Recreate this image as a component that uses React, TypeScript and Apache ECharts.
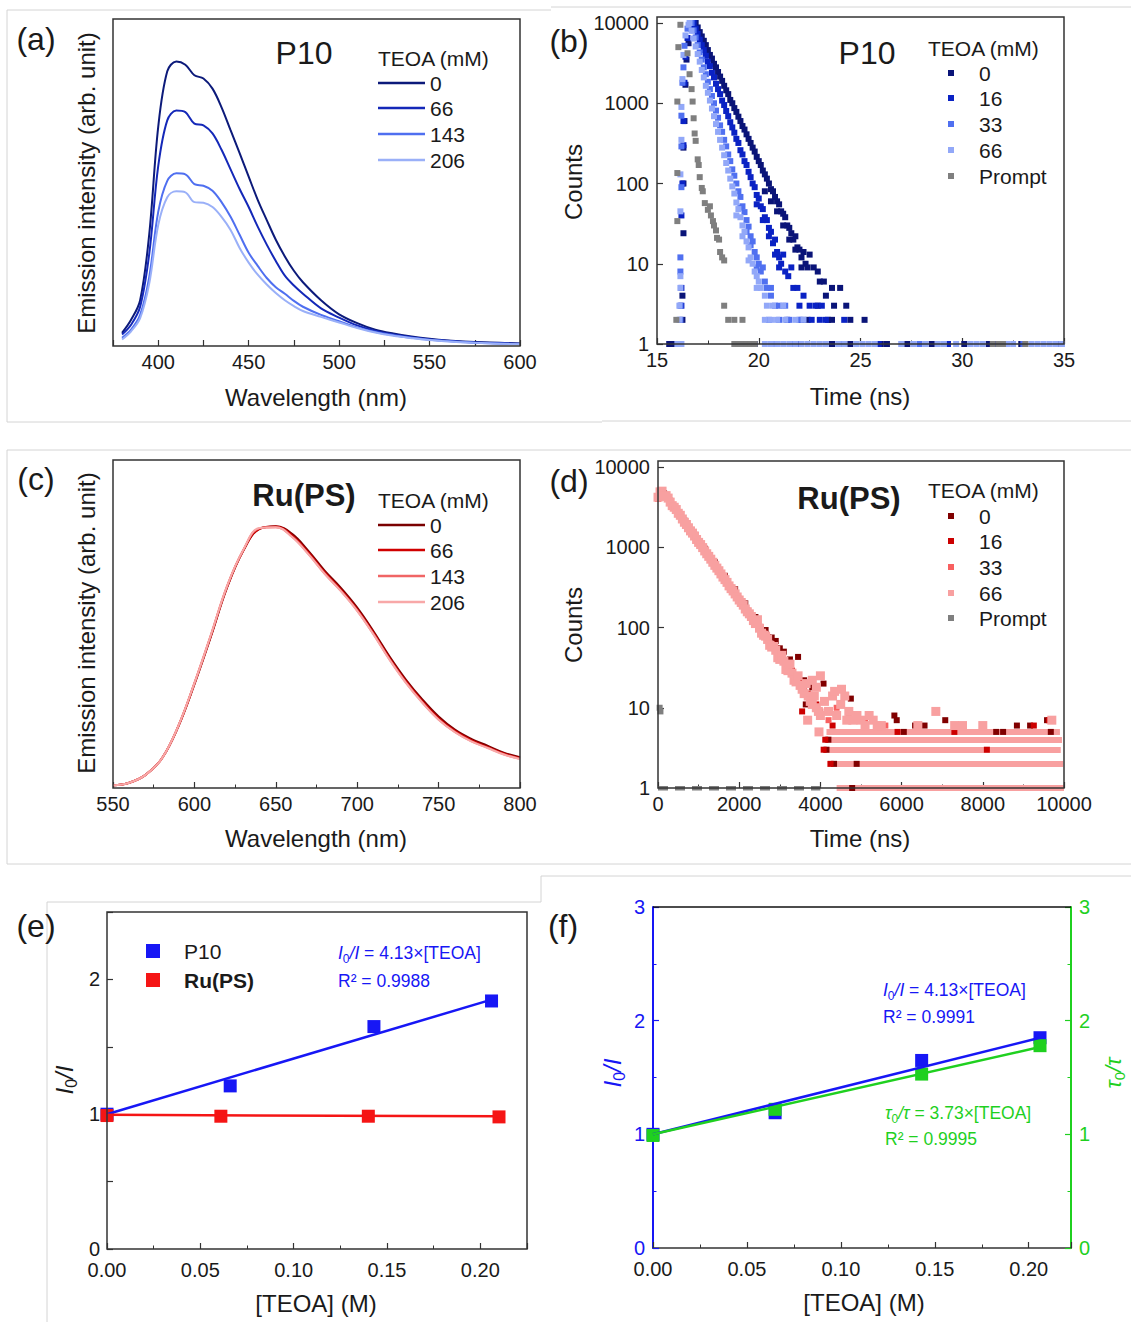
import React, { useEffect, useRef } from "react";
import * as echarts from "echarts";

// ================= DATA =================
// (a) P10 emission spectra vs TEOA (mM)
const aWavelength = [380, 385, 390, 395, 400, 405, 410, 415, 420, 425, 430, 435, 440, 445, 450, 455, 460, 465, 470, 475, 480, 490, 500, 510, 520, 530, 540, 550, 560, 575, 600];
const aI_0 = [4, 8, 14, 34, 67, 84, 87, 86, 82.8, 81.8, 78.7, 73, 66, 59, 51.8, 44.7, 38.5, 32.5, 27.4, 23, 19.5, 14, 9.7, 7, 5, 3.8, 2.9, 2.2, 1.7, 1.2, 0.8];
const aI_66 = [3.5, 6.5, 12, 28, 55, 69, 72, 71.5, 68, 67.5, 65, 60, 54, 48, 42.5, 36.5, 31, 26, 21.5, 18.5, 16, 11.5, 8.7, 6.3, 4.6, 3.5, 2.7, 2, 1.6, 1.1, 0.7];
const aI_143 = [2.5, 5, 9.5, 21, 41, 50.5, 52.8, 52.5, 49.5, 49, 47.5, 44, 39.5, 34, 28.5, 24.5, 20.8, 18, 16, 13.8, 12, 9.5, 7.6, 5.7, 4.3, 3.3, 2.5, 1.9, 1.5, 1, 0.6];
const aI_206 = [2, 4.5, 8.5, 19, 37, 45.5, 47.3, 47, 44, 43.8, 42.5, 39.5, 35.5, 30, 25.5, 21.8, 18.8, 16.2, 14, 12.2, 10.7, 8.9, 7.2, 5.5, 4.1, 3.1, 2.4, 1.8, 1.4, 1, 0.5];
const aLegend = ["0", "66", "143", "206"];

// (b) P10 decays [time ns, counts]
const b0 = [
  [16.25, 2], [16.25, 4], [16.3, 24], [16.3, 100], [16.3, 280], [16.35, 600], [16.4, 1700], [16.45, 3500], [16.55, 5600], [16.7, 8500],
  [16.9, 10000], [17.0, 8800], [17.1, 7700], [17.2, 6800], [17.3, 6000], [17.4, 5300], [17.5, 4600], [17.6, 4000], [17.7, 3600], [17.8, 3100],
  [17.9, 2800], [18.0, 2450], [18.1, 2150], [18.2, 1900], [18.3, 1650], [18.4, 1450], [18.5, 1300], [18.6, 1100], [18.7, 1000], [18.8, 870],
  [18.9, 780], [19.0, 680], [19.1, 600], [19.2, 520], [19.3, 470], [19.4, 410], [19.5, 360], [19.6, 320], [19.7, 280], [19.8, 250],
  [19.9, 215], [20.0, 190], [20.1, 170], [20.2, 145], [20.3, 130], [20.4, 115], [20.5, 100], [20.6, 85], [20.7, 80], [20.8, 68],
  [20.9, 60], [21.0, 55], [21.1, 45], [21.2, 42], [21.3, 38], [21.4, 30], [21.5, 28], [21.6, 24], [21.7, 20], [21.8, 22],
  [21.9, 16], [22.0, 15], [22.1, 12], [22.2, 14], [22.3, 10], [22.4, 9],
  [20.3, 80], [20.6, 60], [20.9, 45], [21.2, 30], [21.5, 20], [21.8, 15], [22.1, 9],
  [22.5, 13], [22.7, 9], [22.9, 8], [23.0, 6], [23.2, 6], [23.6, 5], [24.0, 5], [23.3, 4], [23.7, 3], [24.3, 3], [22.9, 3],
  [23.4, 2], [23.6, 2], [24.5, 2], [25.2, 2], [22.4, 2],
  [15.6, 1], [15.8, 1], [16.1, 1], [19.8, 1], [23.6, 1], [24.5, 1], [26.0, 1], [26.3, 1], [27.3, 1], [28.5, 1], [30.1, 1], [31.3, 1], [32.9, 1], [34.8, 1],
];
const b16 = [
  [16.2, 3], [16.2, 5], [16.2, 40], [16.25, 100], [16.3, 300], [16.3, 600], [16.35, 1800], [16.4, 3800], [16.5, 6500], [16.65, 9500],
  [16.8, 10000], [16.9, 8500], [17.0, 7300], [17.1, 6200], [17.2, 5300], [17.3, 4600], [17.4, 3900], [17.5, 3300], [17.6, 2900], [17.7, 2400],
  [17.8, 2100], [17.9, 1750], [18.0, 1500], [18.1, 1300], [18.2, 1080], [18.3, 950], [18.4, 800], [18.5, 690], [18.6, 580], [18.7, 500],
  [18.8, 430], [18.9, 360], [19.0, 320], [19.1, 260], [19.2, 230], [19.3, 190], [19.4, 170], [19.5, 140], [19.6, 120], [19.7, 100],
  [19.8, 90], [19.9, 72], [20.0, 65], [20.1, 52], [20.2, 48], [20.3, 38], [20.4, 35], [20.5, 28], [20.6, 25], [20.7, 18],
  [20.8, 20], [20.9, 14], [21.0, 12], [21.1, 10], [21.2, 13],
  [19.9, 55], [20.2, 35], [20.5, 22], [20.8, 13], [21.0, 9],
  [21.3, 8], [21.45, 7], [21.6, 9], [21.7, 5], [21.9, 5], [22.0, 3], [22.2, 4], [22.5, 3], [22.8, 3], [23.1, 3],
  [21.4, 2], [22.1, 2], [22.6, 2], [23.0, 2], [23.3, 2], [24.2, 2],
  [20.8, 1], [22.0, 1], [25.9, 1], [29.3, 1], [31.6, 1],
];
const b33 = [
  [16.15, 2], [16.15, 3], [16.15, 8], [16.15, 12], [16.2, 90], [16.2, 290], [16.2, 700], [16.25, 1800], [16.3, 2800], [16.35, 5200], [16.5, 8500],
  [16.7, 10000], [16.8, 8100], [16.9, 6600], [17.0, 5300], [17.1, 4300], [17.2, 3500], [17.3, 2800], [17.4, 2300], [17.5, 1850], [17.6, 1500],
  [17.7, 1230], [17.8, 1000], [17.9, 810], [18.0, 660], [18.1, 530], [18.2, 440], [18.3, 350], [18.4, 290], [18.5, 230], [18.6, 190],
  [18.7, 150], [18.8, 125], [18.9, 100], [19.0, 80], [19.1, 68], [19.2, 52], [19.3, 44], [19.4, 35], [19.5, 29], [19.6, 22],
  [19.7, 19], [19.8, 14], [19.9, 12], [20.0, 10],
  [19.1, 50], [19.4, 25], [19.6, 17], [19.9, 9],
  [20.1, 8], [20.2, 9], [20.3, 6], [20.4, 5], [20.6, 4], [20.6, 5], [20.8, 3], [21.0, 3], [21.3, 3], [20.5, 2], [21.0, 2], [21.5, 2], [22.0, 2],
  [21.6, 1], [24.0, 1], [27.9, 1], [33.0, 1],
];
const b66 = [
  [16.1, 2], [16.1, 3], [16.15, 5], [16.15, 7], [16.15, 45], [16.15, 130], [16.2, 350], [16.2, 900], [16.25, 2000], [16.3, 4000], [16.4, 7000], [16.55, 9500],
  [16.6, 10000], [16.7, 8000], [16.8, 6400], [16.9, 5100], [17.0, 4100], [17.1, 3300], [17.2, 2600], [17.3, 2100], [17.4, 1650], [17.5, 1350],
  [17.6, 1080], [17.7, 860], [17.8, 690], [17.9, 550], [18.0, 440], [18.1, 350], [18.2, 280], [18.3, 225], [18.4, 180], [18.5, 145],
  [18.6, 115], [18.7, 92], [18.8, 75], [18.9, 58], [19.0, 48], [19.1, 38], [19.2, 30], [19.3, 25], [19.4, 19], [19.5, 16], [19.6, 12], [19.7, 10],
  [18.9, 40], [19.2, 22], [19.5, 11],
  [19.8, 8], [19.9, 7], [20.0, 6], [20.1, 5], [19.9, 5], [20.3, 4], [20.4, 3], [20.7, 3], [21.2, 3], [20.3, 2], [20.6, 2], [20.9, 2], [21.3, 2], [21.8, 2], [22.2, 2],
  [16.0, 1], [16.2, 1], [20.3, 1], [20.6, 1], [20.9, 1], [21.2, 1], [21.5, 1], [21.8, 1], [22.1, 1], [22.4, 1], [22.7, 1], [23.0, 1], [23.3, 1],
  [23.9, 1], [24.2, 1], [24.8, 1], [25.1, 1], [25.4, 1], [25.7, 1], [27.0, 1], [27.6, 1], [28.2, 1], [28.8, 1], [29.1, 1], [29.7, 1], [30.4, 1],
  [30.7, 1], [31.0, 1], [32.2, 1], [32.5, 1], [33.4, 1], [33.7, 1], [34.0, 1], [34.3, 1], [34.6, 1], [34.9, 1],
];
const bPrompt = [
  [15.95, 2], [16.0, 34], [16.0, 135], [16.0, 1050], [16.05, 5000], [16.15, 9500], [16.5, 4200], [16.6, 2300], [16.7, 1500], [16.75, 1050],
  [16.8, 650], [16.85, 420], [16.9, 340], [17.0, 200], [17.05, 170], [17.1, 120], [17.2, 88], [17.25, 80], [17.35, 57], [17.5, 47],
  [17.6, 52], [17.65, 40], [17.75, 34], [17.8, 30], [17.9, 26], [17.95, 21], [18.05, 20], [18.1, 14], [18.2, 12], [18.3, 11],
  [18.3, 3], [18.5, 2], [18.8, 2], [19.2, 2],
  [18.8, 1], [19.0, 1], [19.2, 1], [19.4, 1], [19.6, 1], [19.8, 1], [31.5, 1], [31.8, 1], [32.0, 1], [33.1, 1],
];
const bLegend = ["0", "16", "33", "66", "Prompt"];

// (c) Ru(PS) emission spectra
const cWavelength = [550, 560, 570, 580, 590, 600, 610, 620, 630, 640, 650, 660, 670, 680, 690, 700, 710, 720, 730, 740, 750, 760, 770, 780, 790, 800];
const cI_0 = [0.8, 1.6, 4, 9, 18.6, 31.6, 46, 61, 72.3, 79, 79.8, 77.5, 72.3, 66.3, 61, 55, 47.8, 40, 33, 27, 21.8, 17.8, 15, 12.9, 10.8, 9.4];
const cI_66 = [0.8, 1.6, 4, 9, 18.7, 31.8, 46.2, 61.2, 72.4, 79, 79.7, 77, 71.8, 65.8, 60.5, 54.5, 47.3, 39.5, 32.5, 26.5, 21.3, 17.4, 14.6, 12.5, 10.5, 9.1];
const cI_143 = [0.8, 1.6, 4, 9, 18.8, 32, 46.5, 61.5, 72.5, 79.2, 79.5, 76.6, 71.4, 65.4, 60.1, 54.1, 46.9, 39.1, 32.1, 26.1, 20.9, 17.1, 14.3, 12.3, 10.3, 8.9];
const cI_206 = [0.8, 1.6, 4, 9, 18.8, 32, 46.5, 61.5, 72.6, 79.3, 79.5, 76.5, 71.3, 65.3, 60, 54, 46.8, 39, 32, 26, 20.8, 17, 14.2, 12.2, 10.2, 8.8];
const cLegend = ["0", "66", "143", "206"];

// (d) Ru(PS) decays [time ns, counts]
const d0 = [
  [150, 4700], [400, 3250], [650, 2150], [900, 1430], [1150, 960], [1400, 650], [1650, 440], [1900, 300], [2150, 200], [2400, 135],
  [2650, 93], [2800, 75], [2900, 68], [3000, 55], [3100, 50], [3250, 40], [3450, 43], [3600, 22], [3640, 11], [3800, 18],
  [4077, 20], [4750, 13], [5822, 8], [5880, 7], [7075, 7], [9582, 7], [6054, 5], [6332, 6], [6565, 6], [8330, 5], [8500, 5],
  [8840, 6], [9165, 6], [9675, 5], [4197, 4], [4150, 3], [4336, 2], [4893, 2], [4782, 1],
];
const d16 = [
  [100, 4700], [300, 3800], [500, 2700], [700, 1950], [900, 1400], [1100, 1010], [1300, 725], [1500, 520], [1700, 375], [1900, 270],
  [2100, 195], [2300, 142], [2500, 102], [2700, 75], [2900, 55], [3100, 39], [3300, 29], [3500, 21], [3700, 15], [3900, 11],
  [3550, 9], [4300, 6], [9257, 6], [9630, 7], [4120, 4], [4080, 3], [4250, 2], [5900, 5], [7300, 5], [8100, 3],
];
const d33 = [
  [0, 4000], [100, 4800], [200, 4500], [400, 3200], [600, 2300], [800, 1650], [1000, 1180], [1200, 850], [1400, 610], [1600, 440],
  [1800, 315], [2000, 228], [2200, 165], [2400, 118], [2600, 86], [2800, 62], [3000, 45], [3200, 33], [3400, 24], [3600, 17],
  [3800, 13], [4000, 9], [4200, 7], [4400, 10], [4700, 8], [5100, 7], [5600, 6],
];
const d66 = [
  [0, 4200], [50, 4900], [100, 5000], [150, 4300], [200, 4400], [250, 4100], [300, 3650], [350, 3300], [400, 3150], [450, 2950], [500, 2650],
  [550, 2500], [600, 2250], [650, 2050], [700, 1920], [750, 1750], [800, 1600], [850, 1500], [900, 1380], [950, 1250], [1000, 1150],
  [1050, 1080], [1100, 990], [1150, 900], [1200, 830], [1250, 770], [1300, 710], [1350, 650], [1400, 595], [1450, 550], [1500, 510],
  [1550, 465], [1600, 425], [1650, 395], [1700, 365], [1750, 330], [1800, 305], [1850, 285], [1900, 262], [1950, 240], [2000, 220],
  [2050, 205], [2100, 190], [2150, 170], [2200, 157], [2250, 148], [2300, 137], [2350, 122], [2400, 112], [2450, 125],
  [2500, 98], [2550, 85], [2600, 80], [2650, 78], [2700, 71], [2750, 60], [2800, 57], [2850, 58], [2900, 52], [2950, 42], [3000, 40],
  [3050, 45], [3100, 38], [3150, 30], [3200, 29], [3250, 35], [3300, 27], [3350, 22], [3400, 21], [3450, 25], [3500, 19], [3550, 17],
  [3600, 15], [3650, 20], [3700, 14], [3750, 12], [3800, 11], [3850, 14], [3900, 10], [3950, 9], [4000, 8],
  [3686, 7], [3965, 5], [3800, 22], [3900, 18], [4000, 25], [4100, 12], [4200, 9], [4300, 14], [4350, 16], [4400, 8], [4500, 11],
  [4520, 17], [4600, 14], [4650, 7], [4700, 9], [4800, 7], [4900, 8], [5000, 7], [5100, 6], [5200, 8], [5300, 7], [5400, 6],
  [5500, 6], [6400, 6], [6843, 9], [7307, 6], [7500, 6], [8000, 6], [9700, 7],
];
const dPrompt = [[60, 9], [40, 10]];
// saturated background rows of the Ru(PS) decays: [start ns, end ns, counts]
const dRows = [[4150, 9900, 5], [4100, 9950, 4], [4060, 9920, 3], [4170, 9980, 2], [4400, 10000, 1]];
const dPromptRow = [[0, 4000, 1]];
const dLegend = ["0", "16", "33", "66", "Prompt"];

// (e) Stern-Volmer steady-state
const eConcP10 = [0, 0.066, 0.143, 0.206];
const eP10 = [1.0, 1.21, 1.65, 1.84];
const eConcRu = [0, 0.061, 0.14, 0.21];
const eRu = [0.99, 0.985, 0.985, 0.98];
const eFitP10 = [[0, 1.0], [0.206, 1.85]];
const eFitRu = [[0, 0.995], [0.21, 0.985]];

// (f) I0/I and tau0/tau for P10
const fConc = [0, 0.065, 0.143, 0.206];
const fI = [1.0, 1.19, 1.65, 1.85];
const fTau = [0.99, 1.22, 1.53, 1.78];
const fFitI = [[0, 1.0], [0.206, 1.85]];
const fFitTau = [[0, 1.0], [0.206, 1.768]];

// ================= STYLE =================
const FF = '"Liberation Sans", Arial, Helvetica, sans-serif';
const TXT = "#1a1a1a";
const A_COL = ["#0c1a7a", "#1428b8", "#4f6ff0", "#9ab0f8"];
const B_COL = ["#0a1478", "#0a22c4", "#5070f0", "#92a8f8", "#7f7f7f"];
const C_COL = ["#7a0000", "#d00000", "#f06565", "#f8a8a8"];
const D_COL = ["#800000", "#cc0000", "#f86060", "#f8a0a0", "#7f7f7f"];
const BLUE = "#1717f5";
const RED = "#f51515";
const GREEN = "#1fd01f";
const TICK_FS = 20;
const TITLE_FS = 24;
const LEG_FS = 21;

const zip = (xs: number[], ys: number[]) => xs.map((x, i) => [x, ys[i]]);

function txt(text: string, x: number, y: number, size: number, o: any = {}) {
  return {
    type: "text",
    x,
    y,
    rotation: o.rot || 0,
    z: 120,
    silent: true,
    style: {
      text,
      fontSize: size,
      fontFamily: FF,
      fontWeight: o.bold ? "bold" : "normal",
      fontStyle: o.italic ? "italic" : "normal",
      fill: o.color || TXT,
      align: o.align || "center",
      textAlign: o.align || "center",
      verticalAlign: "middle",
      textVerticalAlign: "middle",
      rich: o.rich,
    },
  };
}
function frame(x: number, y: number, w: number, h: number) {
  return { type: "rect", z: 110, silent: true, shape: { x, y, width: w, height: h }, style: { fill: "none", stroke: "#333", lineWidth: 1.5 } };
}
function gline(x1: number, y1: number, x2: number, y2: number, color: string, w: number) {
  return { type: "line", z: 110, silent: true, shape: { x1, y1, x2, y2 }, style: { stroke: color, lineWidth: w } };
}
function sq(cx: number, cy: number, s: number, color: string) {
  return { type: "rect", z: 120, silent: true, shape: { x: cx - s / 2, y: cy - s / 2, width: s, height: s }, style: { fill: color } };
}
function rich(color: string, size: number) {
  const sub = Math.round(size * 0.68);
  return {
    i: { fontStyle: "italic", fontSize: size, fontFamily: FF, fill: color, color, lineHeight: size + 6 },
    s: { fontSize: sub, fontFamily: FF, fill: color, color, verticalAlign: "bottom", lineHeight: sub + 1 },
    n: { fontSize: size, fontFamily: FF, fill: color, color, lineHeight: size + 6 },
  };
}

const lbl = (color = TXT, margin = 8, formatter?: any, lineHeight?: number) => ({ color, fontSize: TICK_FS, fontFamily: FF, margin, formatter, lineHeight });
const tick = (color = "#333", len = 6) => ({ show: true, inside: true, length: len, lineStyle: { color, width: 1.2 } });
const minor = (color = "#333", split = 2) => ({ show: true, splitNumber: split, length: 3.5, lineStyle: { color, width: 1 } });
const noSplit = { show: false };
const multipleOf = (v: number, step: number) => Math.abs(v / step - Math.round(v / step)) < 1e-6;
const logFmt = (v: number) => String(Math.round(v));
const plain = (v: number) => String(v);

const gridBase = { show: false, containLabel: false, outerBoundsMode: "none" };

function buildOption() {
  const series: any[] = [];
  // (a)
  [aI_0, aI_66, aI_143, aI_206].forEach((ys, i) =>
    series.push({ type: "line", xAxisIndex: 0, yAxisIndex: 0, data: zip(aWavelength, ys), showSymbol: false, smooth: 0.35, lineStyle: { color: A_COL[i], width: 2 }, itemStyle: { color: A_COL[i] } })
  );
  // (b)
  [b0, b16, b33, b66, bPrompt].forEach((d, i) =>
    series.push({ type: "scatter", xAxisIndex: 1, yAxisIndex: 1, data: d, symbol: "rect", symbolSize: 6, itemStyle: { color: B_COL[i], opacity: 1 } })
  );
  // (c)
  [cI_0, cI_66, cI_143, cI_206].forEach((ys, i) =>
    series.push({ type: "line", xAxisIndex: 2, yAxisIndex: 2, data: zip(cWavelength, ys), showSymbol: false, smooth: 0.4, lineStyle: { color: C_COL[i], width: 2 }, itemStyle: { color: C_COL[i] } })
  );
  // (d)
  series.push({
    type: "lines", coordinateSystem: "cartesian2d", xAxisIndex: 3, yAxisIndex: 3, polyline: false, silent: true,
    data: dPromptRow.map(([x1, x2, c]) => ({ coords: [[x1, c], [x2, c]] })),
    lineStyle: { color: D_COL[4], width: 5, opacity: 1, type: [10, 7], curveness: 0 },
  });
  series.push({
    type: "lines", coordinateSystem: "cartesian2d", xAxisIndex: 3, yAxisIndex: 3, polyline: false, silent: true,
    data: dRows.map(([x1, x2, c]) => ({ coords: [[x1, c], [x2, c]] })),
    lineStyle: { color: D_COL[3], width: 6, opacity: 1, curveness: 0 },
  });
  [d0, d16, d33, d66, dPrompt].forEach((d, i) =>
    series.push({ type: "scatter", xAxisIndex: 3, yAxisIndex: 3, data: d, symbol: "rect", symbolSize: i === 3 ? 9 : 6, itemStyle: { color: D_COL[i], opacity: 1 } })
  );
  // (e)
  series.push({ type: "line", xAxisIndex: 4, yAxisIndex: 4, data: eFitP10, showSymbol: false, lineStyle: { color: BLUE, width: 2.5 } });
  series.push({ type: "line", xAxisIndex: 4, yAxisIndex: 4, data: eFitRu, showSymbol: false, lineStyle: { color: RED, width: 2.5 } });
  series.push({ type: "scatter", xAxisIndex: 4, yAxisIndex: 4, data: zip(eConcP10, eP10), symbol: "rect", symbolSize: 13, itemStyle: { color: BLUE, opacity: 1 } });
  series.push({ type: "scatter", xAxisIndex: 4, yAxisIndex: 4, data: zip(eConcRu, eRu), symbol: "rect", symbolSize: 13, itemStyle: { color: RED, opacity: 1 } });
  // (f)
  series.push({ type: "line", xAxisIndex: 5, yAxisIndex: 5, data: fFitI, showSymbol: false, lineStyle: { color: BLUE, width: 2.5 } });
  series.push({ type: "line", xAxisIndex: 5, yAxisIndex: 6, data: fFitTau, showSymbol: false, lineStyle: { color: GREEN, width: 2.5 } });
  series.push({ type: "scatter", xAxisIndex: 5, yAxisIndex: 5, data: zip(fConc, fI), symbol: "rect", symbolSize: 13, itemStyle: { color: BLUE, opacity: 1 } });
  series.push({ type: "scatter", xAxisIndex: 5, yAxisIndex: 6, data: zip(fConc, fTau), symbol: "rect", symbolSize: 13, itemStyle: { color: GREEN, opacity: 1 } });

  const grid = [
    { ...gridBase, left: 113, top: 19, width: 407, height: 327 },
    { ...gridBase, left: 657, top: 23, width: 407, height: 321 },
    { ...gridBase, left: 113, top: 460, width: 407, height: 328 },
    { ...gridBase, left: 658, top: 467, width: 406, height: 321 },
    { ...gridBase, left: 107, top: 912, width: 420, height: 337 },
    { ...gridBase, left: 653, top: 907, width: 418, height: 341 },
  ];

  const fmt2 = (v: number) => (multipleOf(v, 0.05) && v < 0.2001 ? v.toFixed(2) : "");
  const xAxis: any[] = [
    { type: "value", gridIndex: 0, min: 375, max: 600, interval: 25, axisLine: { show: false }, splitLine: noSplit, axisTick: tick(), axisLabel: lbl(TXT, 6, (v: number) => (multipleOf(v, 50) ? String(v) : "")) },
    { type: "value", gridIndex: 1, min: 15, max: 35, interval: 5, axisLine: { show: false }, splitLine: noSplit, axisTick: tick(), minorTick: minor(), axisLabel: lbl(TXT, 6, plain) },
    { type: "value", gridIndex: 2, min: 550, max: 800, interval: 50, axisLine: { show: false }, splitLine: noSplit, axisTick: tick(), minorTick: minor(), axisLabel: lbl(TXT, 6, plain) },
    { type: "value", gridIndex: 3, min: 0, max: 10000, interval: 2000, axisLine: { show: false }, splitLine: noSplit, axisTick: tick(), minorTick: minor(), axisLabel: lbl(TXT, 6, plain) },
    { type: "value", gridIndex: 4, min: 0, max: 0.225, interval: 0.05, axisLine: { show: false }, splitLine: noSplit, axisTick: tick(), minorTick: minor(), axisLabel: lbl(TXT, 11, fmt2) },
    { type: "value", gridIndex: 5, min: 0, max: 0.2225, interval: 0.05, axisLine: { show: true, lineStyle: { color: "#333", width: 1.5 } }, splitLine: noSplit, axisTick: tick(), minorTick: minor(), axisLabel: lbl(TXT, 11, fmt2) },
  ];

  const yAxis: any[] = [
    { type: "value", gridIndex: 0, min: 0, max: 100, show: false },
    { type: "log", gridIndex: 1, min: 1, max: 10000, logBase: 10, axisLine: { show: false }, splitLine: noSplit, axisTick: tick(), axisLabel: lbl(TXT, 8, logFmt) },
    { type: "value", gridIndex: 2, min: 0, max: 100, show: false },
    { type: "log", gridIndex: 3, min: 1, max: 10000, logBase: 10, axisLine: { show: false }, splitLine: noSplit, axisTick: tick(), axisLabel: lbl(TXT, 8, logFmt) },
    { type: "value", gridIndex: 4, min: 0, max: 2.5, interval: 0.5, axisLine: { show: false }, splitLine: noSplit, axisTick: tick(), axisLabel: lbl(TXT, 7, (v: number) => (multipleOf(v, 1) ? String(v) : ""), 15) },
    { type: "value", gridIndex: 5, position: "left", min: 0, max: 3, interval: 1, axisLine: { show: true, lineStyle: { color: BLUE, width: 2 } }, splitLine: noSplit, axisTick: tick(BLUE), minorTick: minor(BLUE), axisLabel: lbl(BLUE, 8, plain, 15) },
    { type: "value", gridIndex: 5, position: "right", min: 0, max: 3, interval: 1, axisLine: { show: true, lineStyle: { color: GREEN, width: 2 } }, splitLine: noSplit, axisTick: tick(GREEN), minorTick: minor(GREEN), axisLabel: lbl(GREEN, 8, plain, 15) },
  ];

  const BORDER = "#d4d4d4";
  const graphic: any[] = [
    // screenshot borders
    gline(7, 10, 551, 10, BORDER, 1), gline(7, 10, 7, 422, BORDER, 1), gline(7, 422, 602, 422, BORDER, 1),
    gline(551, 7, 1131, 7, BORDER, 1), gline(602, 421, 1131, 421, BORDER, 1),
    gline(7, 450, 1131, 450, BORDER, 1), gline(7, 450, 7, 864, BORDER, 1), gline(7, 864, 1131, 864, BORDER, 1),
    gline(47, 902, 541, 902, BORDER, 1), gline(47, 902, 47, 1322, BORDER, 1), gline(541, 876, 541, 902, BORDER, 1), gline(541, 876, 1131, 876, BORDER, 1),
    // frames
    frame(113, 19, 407, 327), frame(657, 17, 407, 327), frame(113, 460, 407, 328), frame(658, 461, 406, 327), frame(107, 912, 420, 337),
    gline(653, 907, 1071, 907, "#111", 1.5),
    // panel letters
    txt("(a)", 36, 39, 32), txt("(b)", 569, 41, 32), txt("(c)", 36, 479, 32), txt("(d)", 569, 481, 32), txt("(e)", 36, 926, 32), txt("(f)", 563, 926, 32),
    // axis titles
    txt("Wavelength (nm)", 316, 397, TITLE_FS), txt("Emission intensity (arb. unit)", 86, 183, TITLE_FS, { rot: Math.PI / 2 }),
    txt("Time (ns)", 860, 396, TITLE_FS), txt("Counts", 573, 182, TITLE_FS, { rot: Math.PI / 2 }),
    txt("Wavelength (nm)", 316, 838, TITLE_FS), txt("Emission intensity (arb. unit)", 86, 623, TITLE_FS, { rot: Math.PI / 2 }),
    txt("Time (ns)", 860, 838, TITLE_FS), txt("Counts", 573, 625, TITLE_FS, { rot: Math.PI / 2 }),
    txt("[TEOA] (M)", 316, 1303, TITLE_FS), txt("{i|I}{s|0}{i|/I}", 64, 1080, TITLE_FS, { rot: Math.PI / 2, rich: rich(TXT, TITLE_FS) }),
    txt("[TEOA] (M)", 864, 1302, TITLE_FS),
    txt("{i|I}{s|0}{i|/I}", 612, 1073, TITLE_FS, { rot: Math.PI / 2, rich: rich(BLUE, TITLE_FS), color: BLUE }),
    txt("{i|τ}{s|0}{i|/τ}", 1113, 1073, 22, { rot: Math.PI / 2, rich: rich(GREEN, 22), color: GREEN }),
    // (a) legend
    txt("P10", 304, 53, 32), txt("TEOA (mM)", 378, 58, LEG_FS, { align: "left" }),
    // (b) legend
    txt("P10", 867, 53, 32), txt("TEOA (mM)", 928, 48, LEG_FS, { align: "left" }),
    // (c) legend
    txt("Ru(PS)", 304, 495, 31, { bold: true }), txt("TEOA (mM)", 378, 500, LEG_FS, { align: "left" }),
    // (d) legend
    txt("Ru(PS)", 849, 498, 31, { bold: true }), txt("TEOA (mM)", 928, 490, LEG_FS, { align: "left" }),
    // (e) legend + equations
    sq(153, 951, 14, BLUE), sq(153, 980, 14, RED),
    txt("P10", 184, 951, LEG_FS, { align: "left" }), txt("Ru(PS)", 184, 980, LEG_FS, { align: "left", bold: true }),
    txt("{i|I}{s|0}{i|/I}{n| = 4.13×[TEOA]}", 338, 953, 17.5, { align: "left", rich: rich(BLUE, 17.5), color: BLUE }),
    txt("R² = 0.9988", 338, 981, 17.5, { align: "left", color: BLUE }),
    // (f) equations
    txt("{i|I}{s|0}{i|/I}{n| = 4.13×[TEOA]}", 883, 990, 17.5, { align: "left", rich: rich(BLUE, 17.5), color: BLUE }),
    txt("R² = 0.9991", 883, 1017, 17.5, { align: "left", color: BLUE }),
    txt("{i|τ}{s|0}{i|/τ}{n| = 3.73×[TEOA]}", 885, 1113, 17.5, { align: "left", rich: rich(GREEN, 17.5), color: GREEN }),
    txt("R² = 0.9995", 885, 1139, 17.5, { align: "left", color: GREEN }),
  ];
  const aRows = [83, 108, 134, 160];
  aLegend.forEach((t, i) => {
    graphic.push(gline(378, aRows[i], 425, aRows[i], A_COL[i], 2.5));
    graphic.push(txt(t, 430, aRows[i], LEG_FS, { align: "left" }));
  });
  const cRows = [525, 550, 576, 602];
  cLegend.forEach((t, i) => {
    graphic.push(gline(378, cRows[i], 425, cRows[i], C_COL[i], 2.5));
    graphic.push(txt(t, 430, cRows[i], LEG_FS, { align: "left" }));
  });
  const bRows = [73, 98, 124, 150, 176];
  bLegend.forEach((t, i) => {
    graphic.push(sq(951, bRows[i], 6, B_COL[i]));
    graphic.push(txt(t, 979, bRows[i], LEG_FS, { align: "left" }));
  });
  const dRowsY = [516, 541, 567, 593, 618];
  dLegend.forEach((t, i) => {
    graphic.push(sq(951, dRowsY[i], 6, D_COL[i]));
    graphic.push(txt(t, 979, dRowsY[i], LEG_FS, { align: "left" }));
  });

  return { animation: false, backgroundColor: "#ffffff", grid, xAxis, yAxis, series, graphic };
}

export default function App() {
  const ref = useRef<HTMLDivElement>(null);
  useEffect(() => {
    if (!ref.current) return;
    const chart = echarts.init(ref.current, null, { renderer: "svg" });
    chart.setOption(buildOption() as any);
    return () => chart.dispose();
  }, []);
  return <div ref={ref} style={{ position: "absolute", left: 0, top: 0, width: 1131, height: 1322, background: "#fff" }} />;
}
